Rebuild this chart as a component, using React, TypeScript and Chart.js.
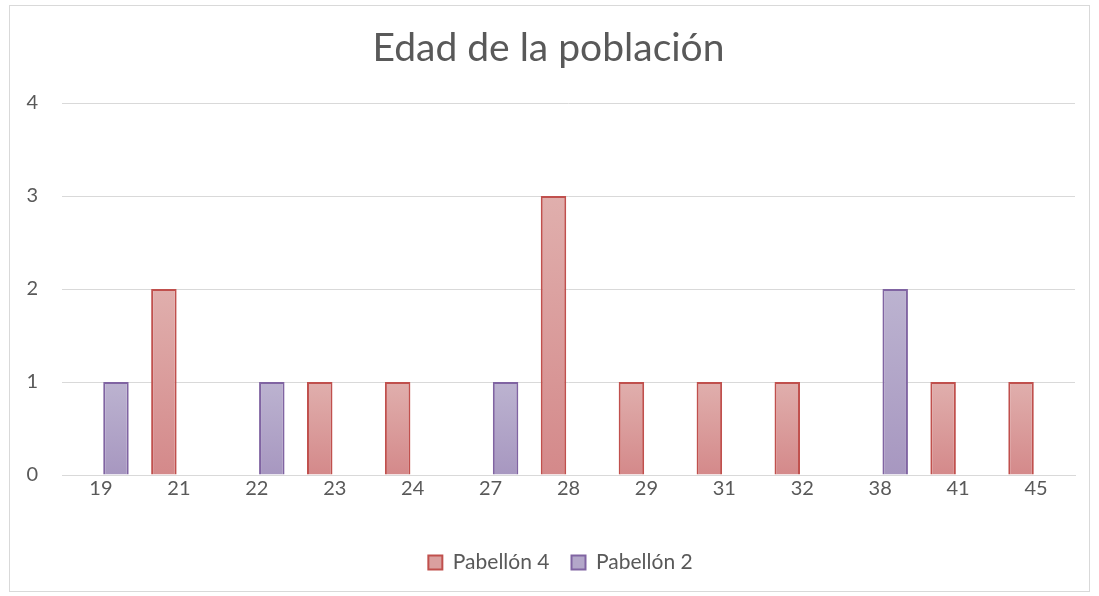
import React, { useEffect, useRef } from "react";
import { Chart, registerables } from "chart.js";

Chart.register(...registerables);

const categories = ["19", "21", "22", "23", "24", "27", "28", "29", "31", "32", "38", "41", "45"];
const pabellon4: (number | null)[] = [null, 2, null, 1, 1, null, 3, 1, 1, 1, null, 1, 1];
const pabellon2: (number | null)[] = [1, null, 1, null, null, 1, null, null, null, null, 2, null, null];
const seriesNames = ["Pabellón 4", "Pabellón 2"];
const chartTitle = "Edad de la población";
const yMin = 0;
const yMax = 4;
const yStep = 1;

const FONT = "Lato, 'Open Sans', sans-serif";
const TEXT = "#595959";

const makeGradient = (top: string, bottom: string) => (ctx: any) => {
  const chart = ctx.chart;
  const v = ctx.raw;
  const y = chart && chart.scales ? chart.scales.y : null;
  if (ctx.type !== "data" || v == null || !y || !chart.chartArea) return bottom;
  const yTop = y.getPixelForValue(v);
  const yBot = y.getPixelForValue(0);
  if (!isFinite(yTop) || !isFinite(yBot) || yBot - yTop < 1) return bottom;
  const g = chart.ctx.createLinearGradient(0, yTop, 0, yBot);
  g.addColorStop(0, top);
  g.addColorStop(1, bottom);
  return g;
};

const frame = {
  id: "frame",
  beforeDraw(chart: any) {
    const c = chart.ctx;
    c.save();
    c.fillStyle = "#ffffff";
    c.fillRect(0, 0, chart.width, chart.height);
    c.strokeStyle = "#d9d9d9";
    c.lineWidth = 1;
    c.strokeRect(9.5, 5.5, 1080, 586);
    c.restore();
  },
};

const legendShift = {
  id: "legendShift",
  afterLayout(chart: any) {
    const lg = chart.legend;
    if (lg) {
      lg.left += 12;
      lg.right += 12;
    }
  },
};

export default function App() {
  const ref = useRef<HTMLCanvasElement | null>(null);

  useEffect(() => {
    if (!ref.current) return;
    const colors = [
      { top: "#e0afad", bottom: "#d4898a", border: "#c0504d", legend: "#daa09f" },
      { top: "#bcb3d0", bottom: "#a797c0", border: "#8064a2", legend: "#b3a7c9" },
    ];
    const chart = new Chart(ref.current, {
      type: "bar",
      data: {
        labels: categories,
        datasets: [
          {
            label: seriesNames[0],
            data: pabellon4,
            backgroundColor: makeGradient(colors[0].top, colors[0].bottom),
            borderColor: colors[0].border,
            borderWidth: 2,
            categoryPercentage: 0.77,
            barPercentage: 0.85,
          },
          {
            label: seriesNames[1],
            data: pabellon2,
            backgroundColor: makeGradient(colors[1].top, colors[1].bottom),
            borderColor: colors[1].border,
            borderWidth: 2,
            categoryPercentage: 0.77,
            barPercentage: 0.85,
          },
        ],
      },
      options: {
        responsive: false,
        animation: false,
        layout: { padding: { left: 22, right: 24, top: 0, bottom: 13 } },
        plugins: {
          tooltip: { enabled: false },
          title: {
            display: true,
            text: chartTitle,
            color: TEXT,
            font: { family: FONT, size: 39, weight: "normal" },
            padding: { top: 24.6, bottom: 31.6 },
          },
          legend: {
            display: true,
            position: "bottom",
            labels: {
              color: TEXT,
              font: { family: FONT, size: 21 },
              boxWidth: 14,
              boxHeight: 14,
              padding: 22,
              generateLabels: () =>
                seriesNames.map((name, i) => ({
                  text: name,
                  fillStyle: colors[i].legend,
                  strokeStyle: colors[i].border,
                  lineWidth: 2,
                  fontColor: TEXT,
                  hidden: false,
                  datasetIndex: i,
                })),
            },
          },
        },
        scales: {
          x: {
            grid: { display: false, drawTicks: false },
            border: { display: true, color: "#d9d9d9", width: 1 },
            ticks: { color: TEXT, font: { family: FONT, size: 20 }, padding: 2, maxRotation: 0 },
            afterFit: (scale: any) => {
              scale.height = 55;
            },
          },
          y: {
            min: yMin,
            max: yMax,
            ticks: { stepSize: yStep, color: TEXT, font: { family: FONT, size: 20 }, padding: 24 },
            grid: { color: "#d9d9d9", lineWidth: 1, drawTicks: false },
            border: { display: false },
            afterFit: (scale: any) => {
              scale.width = 40;
            },
          },
        },
      },
      plugins: [frame, legendShift],
    });
    return () => chart.destroy();
  }, []);

  return (
    <div style={{ position: "absolute", left: 0, top: 0, width: 1099, height: 596 }}>
      <canvas ref={ref} width={1099} height={596} />
    </div>
  );
}
